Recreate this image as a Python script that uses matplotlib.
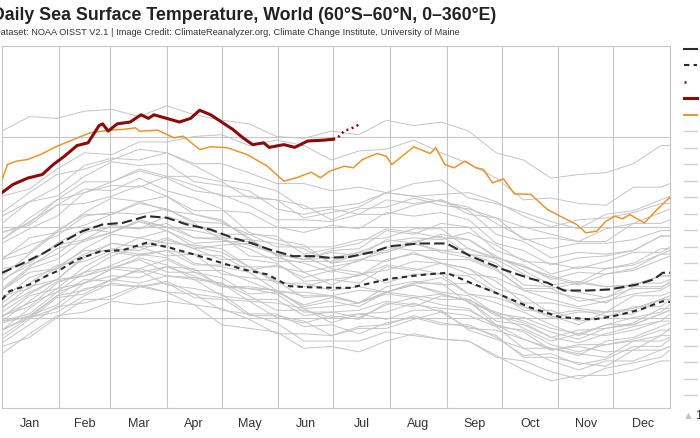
import matplotlib
matplotlib.use("Agg")
import matplotlib.pyplot as plt
from matplotlib.lines import Line2D

plt.rcParams['font.family'] = ['Liberation Sans', 'DejaVu Sans']

# Day of year for the sampled gray climatology years
gray_days = [1, 16, 31, 46, 61, 76, 91, 106, 121, 136, 151, 166, 181, 196,
             211, 226, 241, 256, 271, 286, 301, 316, 331, 346, 361, 366]

# Past years (deg C)
y1982 = [19.90, 20.00, 20.03, 20.12, 20.19, 20.17, 20.19, 20.11, 20.10, 20.09, 20.00, 19.97, 20.01, 19.99, 20.08, 20.06, 20.12, 20.10, 20.01, 19.97, 19.89, 19.93, 19.94, 19.97, 20.05, 20.05]
y1983 = [20.15, 20.25, 20.27, 20.35, 20.41, 20.39, 20.40, 20.30, 20.28, 20.25, 20.15, 20.12, 20.12, 20.08, 20.13, 20.11, 20.13, 20.09, 19.96, 19.92, 19.82, 19.84, 19.81, 19.82, 19.90, 19.90]
y1984 = [19.93, 20.00, 20.05, 20.16, 20.18, 20.17, 20.20, 20.13, 20.04, 20.02, 19.97, 19.87, 19.87, 19.87, 19.92, 19.90, 19.88, 19.87, 19.79, 19.71, 19.65, 19.68, 19.68, 19.71, 19.76, 19.76]
y1985 = [19.80, 19.91, 20.01, 20.03, 20.09, 20.07, 20.09, 20.07, 19.96, 19.94, 19.92, 19.83, 19.84, 19.81, 19.87, 19.91, 19.88, 19.87, 19.78, 19.76, 19.70, 19.66, 19.72, 19.75, 19.78, 19.82]
y1986 = [19.86, 19.96, 20.06, 20.08, 20.12, 20.18, 20.14, 20.07, 20.05, 19.99, 19.91, 19.91, 19.90, 19.94, 19.94, 19.99, 20.03, 19.94, 19.93, 19.88, 19.83, 19.79, 19.87, 19.89, 19.95, 19.97]
y1987 = [20.01, 20.06, 20.19, 20.25, 20.34, 20.39, 20.34, 20.35, 20.34, 20.26, 20.29, 20.22, 20.26, 20.23, 20.32, 20.35, 20.32, 20.32, 20.26, 20.16, 20.16, 20.09, 20.11, 20.16, 20.16, 20.20]
y1988 = [20.03, 20.13, 20.21, 20.23, 20.27, 20.33, 20.29, 20.21, 20.19, 20.12, 20.04, 20.04, 20.00, 20.02, 19.99, 20.04, 20.04, 19.93, 19.88, 19.83, 19.76, 19.71, 19.76, 19.76, 19.82, 19.84]
y1989 = [19.84, 19.89, 20.00, 20.10, 20.10, 20.17, 20.14, 20.13, 20.11, 20.01, 20.01, 19.98, 19.90, 19.95, 19.96, 20.01, 19.97, 19.95, 19.90, 19.78, 19.78, 19.75, 19.73, 19.82, 19.82, 19.84]
y1990 = [19.98, 20.09, 20.20, 20.23, 20.29, 20.35, 20.33, 20.26, 20.26, 20.20, 20.14, 20.14, 20.12, 20.15, 20.14, 20.19, 20.22, 20.13, 20.11, 20.06, 20.01, 19.96, 20.03, 20.04, 20.10, 20.12]
y1991 = [19.93, 20.01, 20.07, 20.19, 20.23, 20.22, 20.28, 20.23, 20.17, 20.17, 20.15, 20.05, 20.06, 20.08, 20.14, 20.12, 20.10, 20.10, 20.02, 19.94, 19.87, 19.91, 19.90, 19.93, 19.98, 19.98]
y1992 = [19.98, 20.00, 20.12, 20.15, 20.21, 20.26, 20.18, 20.16, 20.13, 20.02, 20.02, 19.95, 19.96, 19.91, 19.97, 20.00, 19.96, 19.96, 19.89, 19.79, 19.80, 19.74, 19.77, 19.84, 19.84, 19.88]
y1993 = [19.88, 19.99, 20.11, 20.13, 20.21, 20.19, 20.23, 20.21, 20.12, 20.10, 20.10, 20.01, 20.03, 20.00, 20.07, 20.11, 20.07, 20.05, 19.95, 19.93, 19.85, 19.81, 19.85, 19.87, 19.90, 19.94]
y1994 = [19.98, 20.02, 20.14, 20.19, 20.27, 20.32, 20.25, 20.25, 20.22, 20.13, 20.14, 20.07, 20.11, 20.08, 20.17, 20.20, 20.18, 20.19, 20.14, 20.04, 20.04, 19.98, 20.00, 20.06, 20.06, 20.10]
y1995 = [20.08, 20.19, 20.29, 20.31, 20.37, 20.35, 20.37, 20.35, 20.24, 20.22, 20.20, 20.11, 20.12, 20.08, 20.14, 20.18, 20.13, 20.09, 19.98, 19.96, 19.89, 19.86, 19.91, 19.95, 19.98, 20.02]
y1996 = [19.97, 20.01, 20.12, 20.21, 20.20, 20.27, 20.23, 20.22, 20.19, 20.09, 20.08, 20.05, 19.97, 20.02, 20.03, 20.08, 20.03, 20.01, 19.95, 19.83, 19.83, 19.80, 19.78, 19.87, 19.87, 19.89]
y1997 = [20.05, 20.17, 20.21, 20.33, 20.41, 20.39, 20.44, 20.38, 20.40, 20.41, 20.35, 20.32, 20.33, 20.36, 20.42, 20.44, 20.43, 20.47, 20.40, 20.31, 20.30, 20.27, 20.31, 20.36, 20.36, 20.39]
y1998 = [20.43, 20.53, 20.62, 20.63, 20.67, 20.73, 20.67, 20.57, 20.53, 20.44, 20.34, 20.34, 20.27, 20.25, 20.19, 20.24, 20.24, 20.13, 20.08, 20.03, 19.96, 19.90, 19.96, 19.96, 20.02, 20.04]
y1999 = [20.01, 20.08, 20.14, 20.25, 20.28, 20.27, 20.32, 20.25, 20.18, 20.16, 20.13, 20.03, 20.03, 20.04, 20.09, 20.07, 20.05, 20.04, 19.96, 19.88, 19.82, 19.85, 19.85, 19.88, 19.93, 19.93]
y2000 = [19.93, 20.05, 20.16, 20.19, 20.27, 20.25, 20.28, 20.27, 20.17, 20.16, 20.15, 20.06, 20.09, 20.06, 20.14, 20.18, 20.14, 20.12, 20.02, 20.00, 19.94, 19.91, 19.96, 20.00, 20.03, 20.07]
y2001 = [20.12, 20.16, 20.28, 20.37, 20.37, 20.44, 20.41, 20.40, 20.38, 20.28, 20.28, 20.25, 20.18, 20.24, 20.26, 20.31, 20.30, 20.24, 20.22, 20.15, 20.10, 20.06, 20.09, 20.13, 20.15, 20.18]
y2002 = [20.15, 20.27, 20.32, 20.43, 20.51, 20.49, 20.52, 20.44, 20.44, 20.43, 20.35, 20.32, 20.36, 20.34, 20.43, 20.41, 20.46, 20.43, 20.33, 20.29, 20.21, 20.25, 20.24, 20.27, 20.35, 20.35]
y2003 = [20.33, 20.40, 20.45, 20.56, 20.58, 20.57, 20.60, 20.52, 20.43, 20.40, 20.35, 20.25, 20.28, 20.31, 20.39, 20.37, 20.37, 20.38, 20.32, 20.24, 20.16, 20.19, 20.17, 20.18, 20.23, 20.23]
y2004 = [20.27, 20.30, 20.41, 20.49, 20.47, 20.54, 20.50, 20.48, 20.45, 20.34, 20.33, 20.30, 20.25, 20.32, 20.36, 20.41, 20.37, 20.35, 20.30, 20.18, 20.17, 20.14, 20.11, 20.19, 20.19, 20.21]
y2005 = [20.32, 20.36, 20.48, 20.57, 20.57, 20.64, 20.59, 20.57, 20.54, 20.43, 20.41, 20.38, 20.30, 20.35, 20.36, 20.41, 20.36, 20.33, 20.27, 20.15, 20.14, 20.11, 20.08, 20.17, 20.17, 20.19]
y2006 = [20.16, 20.28, 20.38, 20.42, 20.47, 20.53, 20.50, 20.44, 20.43, 20.38, 20.31, 20.31, 20.31, 20.36, 20.37, 20.42, 20.45, 20.35, 20.33, 20.28, 20.23, 20.19, 20.27, 20.29, 20.35, 20.37]
y2007 = [20.20, 20.31, 20.40, 20.43, 20.47, 20.53, 20.48, 20.39, 20.36, 20.28, 20.19, 20.19, 20.15, 20.17, 20.14, 20.19, 20.19, 20.08, 20.03, 19.98, 19.92, 19.88, 19.94, 19.96, 20.02, 20.04]
y2008 = [20.00, 20.12, 20.16, 20.28, 20.36, 20.34, 20.37, 20.29, 20.29, 20.28, 20.20, 20.17, 20.21, 20.19, 20.28, 20.26, 20.30, 20.27, 20.16, 20.12, 20.02, 20.04, 20.01, 20.02, 20.10, 20.10]
y2009 = [20.10, 20.22, 20.27, 20.38, 20.46, 20.44, 20.48, 20.41, 20.42, 20.42, 20.35, 20.32, 20.37, 20.38, 20.48, 20.46, 20.52, 20.50, 20.37, 20.32, 20.24, 20.28, 20.27, 20.30, 20.38, 20.38]
y2010 = [20.47, 20.51, 20.62, 20.71, 20.70, 20.77, 20.70, 20.66, 20.60, 20.47, 20.43, 20.40, 20.30, 20.32, 20.31, 20.36, 20.30, 20.27, 20.20, 20.08, 20.08, 20.05, 20.03, 20.12, 20.12, 20.14]
y2011 = [20.06, 20.14, 20.21, 20.34, 20.38, 20.37, 20.43, 20.38, 20.32, 20.32, 20.30, 20.20, 20.21, 20.23, 20.29, 20.27, 20.24, 20.23, 20.14, 20.06, 20.00, 20.03, 20.03, 20.05, 20.10, 20.10]
y2012 = [20.21, 20.29, 20.35, 20.47, 20.50, 20.49, 20.56, 20.51, 20.46, 20.46, 20.45, 20.35, 20.38, 20.41, 20.49, 20.47, 20.44, 20.43, 20.34, 20.26, 20.18, 20.20, 20.17, 20.18, 20.23, 20.23]
y2013 = [20.23, 20.35, 20.47, 20.51, 20.57, 20.63, 20.60, 20.53, 20.52, 20.46, 20.39, 20.39, 20.39, 20.43, 20.44, 20.49, 20.49, 20.38, 20.33, 20.28, 20.22, 20.18, 20.24, 20.26, 20.32, 20.34]
y2014 = [20.32, 20.44, 20.47, 20.58, 20.66, 20.64, 20.67, 20.59, 20.59, 20.58, 20.50, 20.47, 20.51, 20.49, 20.58, 20.56, 20.58, 20.54, 20.41, 20.37, 20.29, 20.33, 20.34, 20.37, 20.45, 20.45]
y2015 = [20.41, 20.49, 20.56, 20.69, 20.73, 20.72, 20.78, 20.73, 20.67, 20.67, 20.65, 20.55, 20.58, 20.61, 20.69, 20.67, 20.68, 20.69, 20.64, 20.56, 20.50, 20.54, 20.55, 20.58, 20.63, 20.63]
y2016 = [21.03, 21.11, 21.10, 21.14, 21.15, 21.11, 21.17, 21.12, 21.09, 21.07, 21.00, 20.99, 21.03, 21.01, 21.09, 21.06, 21.08, 21.03, 20.91, 20.87, 20.77, 20.79, 20.80, 20.85, 20.95, 20.95]
y2017 = [20.56, 20.64, 20.72, 20.84, 20.88, 20.87, 20.91, 20.84, 20.76, 20.74, 20.70, 20.60, 20.61, 20.63, 20.69, 20.67, 20.64, 20.61, 20.52, 20.44, 20.38, 20.41, 20.41, 20.43, 20.48, 20.48]
y2018 = [20.43, 20.55, 20.65, 20.69, 20.75, 20.81, 20.77, 20.70, 20.68, 20.62, 20.54, 20.54, 20.53, 20.57, 20.57, 20.62, 20.65, 20.57, 20.55, 20.50, 20.46, 20.42, 20.49, 20.52, 20.58, 20.60]
y2019 = [20.58, 20.69, 20.79, 20.82, 20.87, 20.93, 20.91, 20.85, 20.85, 20.80, 20.74, 20.74, 20.70, 20.72, 20.69, 20.74, 20.76, 20.66, 20.63, 20.58, 20.53, 20.49, 20.57, 20.59, 20.65, 20.67]
y2020 = [20.67, 20.71, 20.82, 20.91, 20.90, 20.97, 20.97, 21.00, 21.01, 20.95, 20.98, 20.95, 20.87, 20.92, 20.93, 20.98, 20.91, 20.85, 20.77, 20.65, 20.66, 20.63, 20.62, 20.72, 20.72, 20.74]
y2021 = [20.47, 20.52, 20.65, 20.75, 20.75, 20.82, 20.78, 20.78, 20.75, 20.66, 20.65, 20.62, 20.54, 20.60, 20.61, 20.66, 20.62, 20.60, 20.55, 20.43, 20.44, 20.42, 20.42, 20.52, 20.52, 20.54]
y2022 = [20.52, 20.64, 20.67, 20.78, 20.86, 20.84, 20.85, 20.75, 20.73, 20.70, 20.60, 20.57, 20.60, 20.57, 20.65, 20.63, 20.65, 20.59, 20.46, 20.42, 20.33, 20.36, 20.35, 20.37, 20.45, 20.45]

gray_years = {
    1982: y1982, 1983: y1983, 1984: y1984, 1985: y1985, 1986: y1986, 1987: y1987,
    1988: y1988, 1989: y1989, 1990: y1990, 1991: y1991, 1992: y1992, 1993: y1993,
    1994: y1994, 1995: y1995, 1996: y1996, 1997: y1997, 1998: y1998, 1999: y1999,
    2000: y2000, 2001: y2001, 2002: y2002, 2003: y2003, 2004: y2004, 2005: y2005,
    2006: y2006, 2007: y2007, 2008: y2008, 2009: y2009, 2010: y2010, 2011: y2011,
    2012: y2012, 2013: y2013, 2014: y2014, 2015: y2015, 2016: y2016, 2017: y2017,
    2018: y2018, 2019: y2019, 2020: y2020, 2021: y2021, 2022: y2022,
}

# 2023 (orange)
days_2023 = [1, 4, 9, 15, 22, 31, 40, 49, 60, 67, 74, 76, 86, 95, 100, 109, 115, 124, 135, 146,
             155, 162, 170, 175, 180, 188, 193, 198, 206, 211, 214, 226, 235, 238, 243, 248, 254,
             260, 264, 269, 275, 281, 290, 299, 306, 315, 320, 326, 331, 336, 340, 344, 352, 359, 366]
sst_2023 = [20.76, 20.845, 20.864, 20.873, 20.90, 20.946, 20.983, 21.02, 21.035, 21.039, 21.048,
            21.029, 21.035, 20.993, 21.002, 20.928, 20.943, 20.938, 20.90, 20.836, 20.753, 20.772,
            20.803, 20.772, 20.808, 20.836, 20.827, 20.873, 20.906, 20.891, 20.845, 20.943, 20.906,
            20.938, 20.845, 20.827, 20.864, 20.827, 20.818, 20.744, 20.766, 20.683, 20.68, 20.597,
            20.56, 20.514, 20.468, 20.477, 20.532, 20.56, 20.545, 20.569, 20.523, 20.597, 20.665]

# 2024 (dark red) and preliminary tail
days_2024 = [1, 7, 15, 23, 29, 35, 42, 48, 54, 56, 59, 64, 71, 77, 81, 84, 91, 98, 104, 109,
             115, 121, 127, 133, 138, 144, 147, 155, 161, 168, 177, 182]
sst_2024 = [20.69, 20.735, 20.77, 20.79, 20.845, 20.89, 20.95, 20.965, 21.06, 21.07, 21.03,
            21.07, 21.08, 21.12, 21.10, 21.12, 21.10, 21.08, 21.10, 21.145, 21.12, 21.08, 21.04,
            20.99, 20.955, 20.965, 20.94, 20.955, 20.94, 20.975, 20.98, 20.985]
days_prelim = [182, 184, 186, 188, 189, 191, 193, 195, 196]
sst_prelim = [20.985, 20.99, 21.01, 21.03, 21.035, 21.04, 21.05, 21.06, 21.07]

# climatological means
days_mean_a = [1, 11, 24, 35, 45, 56, 67, 80, 91, 102, 115, 127, 138, 147, 160, 171, 180, 191,
               204, 213, 229, 244, 257, 275, 290, 299, 308, 321, 333, 348, 357, 362, 366]
mean_1991_2020 = [20.247, 20.293, 20.357, 20.422, 20.477, 20.514, 20.523, 20.56, 20.551, 20.514,
                  20.486, 20.44, 20.409, 20.376, 20.339, 20.339, 20.33, 20.335, 20.363, 20.394,
                  20.409, 20.409, 20.339, 20.265, 20.214, 20.192, 20.149, 20.149, 20.155, 20.182,
                  20.21, 20.247, 20.247]
days_mean_b = [1, 5, 16, 25, 33, 42, 55, 67, 80, 93, 106, 118, 133, 146, 158, 169, 184, 191,
               213, 229, 244, 257, 273, 290, 306, 324, 335, 350, 362, 366]
mean_1982_2011 = [20.099, 20.145, 20.182, 20.228, 20.265, 20.32, 20.366, 20.372, 20.413, 20.385,
                  20.348, 20.311, 20.265, 20.238, 20.173, 20.167, 20.164, 20.164, 20.214, 20.234,
                  20.247, 20.192, 20.127, 20.054, 20.002, 19.989, 20.007, 20.044, 20.09, 20.085]

month_starts = [32, 60, 91, 121, 152, 182, 213, 244, 274, 305, 335]
month_centers = [16.5, 46, 75.5, 106, 136.5, 167, 197.5, 228.5, 259, 289.5, 320, 351.5]
month_names = ["Jan", "Feb", "Mar", "Apr", "May", "Jun",
               "Jul", "Aug", "Sep", "Oct", "Nov", "Dec"]

GRAY = "#c4c4c4"
GRID = "#c6c6c6"
RED = "#8b0a0a"
ORANGE = "#e8952c"
DARK = "#2b2b2b"

fig = plt.figure(figsize=(7, 4.38), dpi=100)
ax = fig.add_axes([2 / 700, 1 - 408 / 438, 668 / 700, 362 / 438])

for yr, vals in gray_years.items():
    ax.plot(gray_days, vals, color=GRAY, lw=0.7, zorder=1)

ax.plot(days_mean_a, mean_1991_2020, color=DARK, lw=1.5, dashes=(5, 2), zorder=3)
ax.plot(days_mean_b, mean_1982_2011, color=DARK, lw=1.5, dashes=(2.6, 2), zorder=3)
ax.plot(days_2023, sst_2023, color=ORANGE, lw=1.1, zorder=4)
ax.plot(days_2024, sst_2024, color=RED, lw=2.2, zorder=5)
ax.plot(days_prelim, sst_prelim, color=RED, lw=1.8, linestyle=(0, (0.8, 1.4)), zorder=5)

ax.set_xlim(1, 366)
ax.set_ylim(19.5, 21.5)

ax.set_yticks([20.0, 20.5, 21.0])
ax.set_xticks(month_starts)
ax.set_xticks(month_centers, minor=True)
ax.set_xticklabels([])
ax.set_xticklabels(month_names, minor=True)
ax.tick_params(axis="x", which="both", length=0)
ax.tick_params(axis="x", which="minor", labelsize=9, labelcolor="#333333", pad=7)
ax.tick_params(axis="y", length=0, labelleft=False)
ax.grid(True, which="major", color=GRID, lw=0.8)
ax.set_axisbelow(True)
for sp in ax.spines.values():
    sp.set_color(GRID)
    sp.set_linewidth(0.8)

fig.text(-8 / 700, 1 - 19.5 / 438, "Daily Sea Surface Temperature, World (60°S–60°N, 0–360°E)",
         fontsize=12.8, fontweight="bold", color="#222222", va="baseline", ha="left")
fig.text(-6 / 700, 1 - 35 / 438,
         "Dataset: NOAA OISST V2.1 | Image Credit: ClimateReanalyzer.org, "
         "Climate Change Institute, University of Maine",
         fontsize=6.7, color="#333333", va="baseline", ha="left")

# Legend (first page only, labels run off the right edge)
handles = [
    Line2D([], [], color=DARK, lw=1.5),
    Line2D([], [], color=DARK, lw=1.5, dashes=(2.6, 2)),
    Line2D([], [], color=RED, lw=1.8, linestyle=(0, (0.8, 6))),
    Line2D([], [], color=RED, lw=2.2),
    Line2D([], [], color=ORANGE, lw=1.4),
]
labels = ["1991-2020 mean", "1982-2011 mean", "2024 preliminary", "2024", "2023"]
for yr in range(2022, 2005, -1):
    handles.append(Line2D([], [], color="#d0d0d0", lw=1.0))
    labels.append(str(yr))
fig.legend(handles, labels, loc="upper left", bbox_to_anchor=(684 / 700, 1 - 44 / 438),
           frameon=False, fontsize=9, handlelength=1.05, handletextpad=0.4,
           borderpad=0, borderaxespad=0, labelspacing=0.36, labelcolor="#333333")

fig.text(683 / 700, 1 - 416 / 438, "▲", color="#c4c4c4", fontsize=8, va="center", ha="left")
fig.text(695 / 700, 1 - 416 / 438, "1/3", color="#333333", fontsize=9, va="center", ha="left")

fig.savefig("out.png", dpi=100)
